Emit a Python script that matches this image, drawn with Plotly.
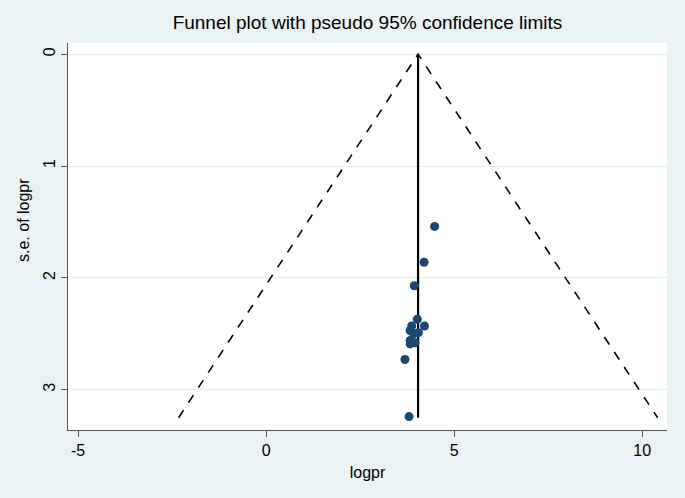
import plotly.graph_objects as go

# Study estimates (logpr) and their standard errors
logpr = [4.48, 4.20, 3.94, 4.02, 4.21, 3.87, 3.83, 4.05, 3.92, 3.83, 3.96, 3.83, 3.69, 3.80]
se_logpr = [1.54, 1.86, 2.07, 2.37, 2.43, 2.43, 2.47, 2.49, 2.50, 2.56, 2.58, 2.59, 2.73, 3.24]

# Pooled estimate and pseudo 95% limit multiplier
pooled = 4.04
z95 = 1.96
se_max = 3.25

x_ticks = [-5, 0, 5, 10]
y_ticks = [0, 1, 2, 3]

title_text = "Funnel plot with pseudo 95% confidence limits"
x_title = "logpr"
y_title = "s.e. of logpr"

font_family = "Liberation Sans, Arial, Helvetica, sans-serif"

W, H = 685, 498
ML, MR, MT, MB = 68, 18, 43, 68
PW, PH = W - ML - MR, H - MT - MB

fig = go.Figure()

# Pseudo 95% confidence limits (dashed funnel)
fig.add_trace(go.Scatter(
    x=[pooled - z95 * se_max, pooled, pooled + z95 * se_max],
    y=[se_max, 0, se_max],
    mode="lines",
    line=dict(color="black", width=1.6, dash="dash"),
    hoverinfo="skip",
    showlegend=False,
))

# Pooled estimate vertical line
fig.add_trace(go.Scatter(
    x=[pooled, pooled],
    y=[0, se_max],
    mode="lines",
    line=dict(color="black", width=2.2),
    hoverinfo="skip",
    showlegend=False,
))

# Studies
fig.add_trace(go.Scatter(
    x=logpr,
    y=se_logpr,
    mode="markers",
    marker=dict(color="#1A476F", size=9, line=dict(width=0)),
    showlegend=False,
))

fig.update_layout(
    width=W,
    height=H,
    paper_bgcolor="#EAF2F3",
    plot_bgcolor="white",
    margin=dict(l=ML, r=MR, t=MT, b=MB, autoexpand=False),
    title=dict(
        text=title_text,
        x=(ML + W - MR) / 2 / W,
        xanchor="center",
        y=1 - 22 / H,
        yanchor="middle",
        font=dict(family=font_family, size=19, color="black"),
    ),
    font=dict(family=font_family, size=16, color="black"),
    showlegend=False,
    annotations=[
        dict(
            text=y_title,
            xref="paper", yref="paper",
            x=(23 - ML) / PW, y=(H - MB - 220) / PH,
            xanchor="center", yanchor="middle",
            textangle=-90,
            showarrow=False,
            font=dict(family=font_family, size=16, color="black"),
        )
    ],
)

fig.update_xaxes(
    range=[-5.27, 10.66],
    tickvals=x_ticks,
    ticktext=[str(v) for v in x_ticks],
    ticks="outside",
    ticklen=6,
    tickcolor="#555555",
    showline=True,
    linecolor="#555555",
    linewidth=1,
    showgrid=False,
    zeroline=False,
    title=dict(text=x_title, font=dict(size=16), standoff=8),
    tickfont=dict(size=16),
)

fig.update_yaxes(
    range=[3.36, -0.10],
    tickvals=y_ticks,
    ticktext=[str(v) for v in y_ticks],
    tickangle=-90,
    ticks="outside",
    ticklen=6,
    tickcolor="#555555",
    showline=True,
    linecolor="#555555",
    linewidth=1,
    showgrid=True,
    gridcolor="#E4EEEF",
    gridwidth=1,
    zeroline=False,
    tickfont=dict(size=16),
)

fig.write_html(
    "out.html",
    config={"displayModeBar": False},
    post_script="document.body.style.margin='0';",
)
